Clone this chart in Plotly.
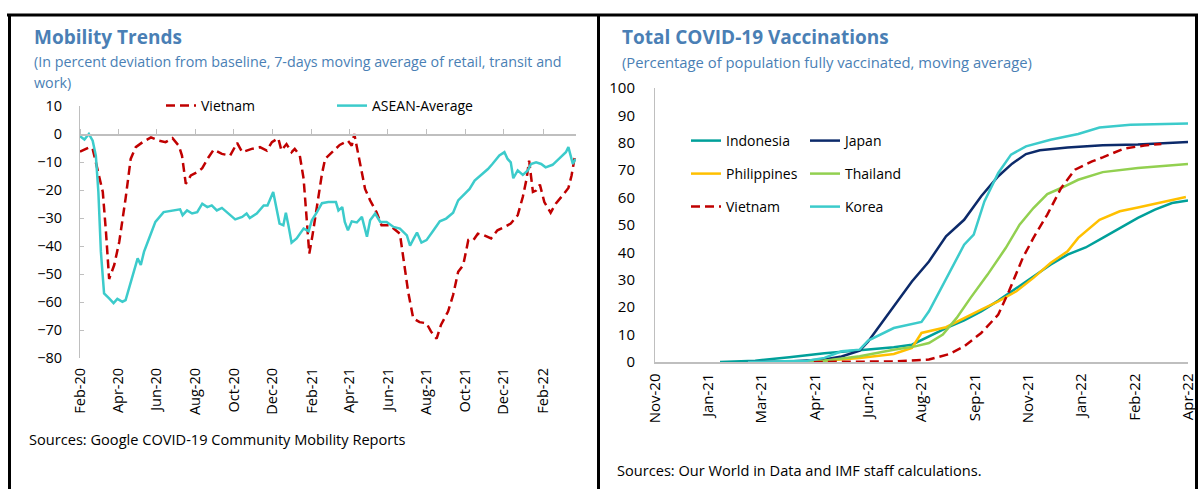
import plotly.graph_objects as go

# ---------------- Left chart data: Mobility Trends ----------------
vn_mob_dates = ["2020-02-15","2020-03-01","2020-03-06","2020-03-17","2020-03-22","2020-03-27","2020-04-01",
    "2020-04-09","2020-04-17","2020-04-27","2020-05-05","2020-05-13","2020-05-24","2020-06-06","2020-06-19",
    "2020-06-29","2020-07-10","2020-07-20","2020-07-25","2020-07-31","2020-08-08","2020-08-18","2020-08-26",
    "2020-09-05","2020-09-13","2020-09-26","2020-10-09","2020-10-20","2020-10-28","2020-11-12","2020-11-25",
    "2020-12-06","2020-12-14","2020-12-24","2020-12-29","2021-01-06","2021-01-14","2021-01-19","2021-01-27",
    "2021-02-02","2021-02-06","2021-02-11","2021-02-16","2021-02-23","2021-03-03","2021-03-08","2021-03-21",
    "2021-03-31","2021-04-13","2021-04-19","2021-04-23","2021-04-27","2021-05-02","2021-05-10","2021-05-18",
    "2021-05-28","2021-06-05","2021-06-18","2021-07-04","2021-07-09","2021-07-17","2021-07-25","2021-08-04",
    "2021-08-15","2021-08-22","2021-08-31","2021-09-07","2021-09-18","2021-09-26","2021-10-04","2021-10-12",
    "2021-10-20","2021-10-28","2021-11-04","2021-11-14","2021-11-25","2021-12-05","2021-12-16","2021-12-26",
    "2022-01-06","2022-01-14","2022-01-20","2022-01-24","2022-01-30","2022-02-04","2022-02-10","2022-02-17",
    "2022-02-27","2022-03-07","2022-03-18","2022-03-27","2022-04-01","2022-04-06"]
vn_mob_vals = [-6.3,-4.7,-5.3,-16,-20.7,-35,-51.8,
    -46.8,-38.5,-23,-8.9,-4.7,-2.9,-1.2,-2.4,
    -2.9,-1.5,-4.2,-7.7,-17.8,-14.8,-13.6,-12.2,
    -8.3,-5.6,-7.1,-7.7,-3.2,-6.5,-5.3,-4.7,
    -5.9,-2.9,-1.5,-5.9,-3.6,-6.5,-5.3,-7.7,
    -16,-26.7,-42.7,-36.2,-25.5,-14.2,-8.9,-5.9,
    -3.9,-2.4,-4.2,0,-4.7,-11.3,-19.6,-23.7,
    -27.9,-32.6,-32.6,-35.6,-43.3,-56.3,-65.8,-67.2,
    -67.6,-70.5,-73.1,-68.1,-63.4,-57.5,-49.2,-46.8,
    -37.9,-37.9,-35.6,-36.2,-37.3,-34.4,-33.2,-32,
    -29,-22.5,-16,-9.5,-20.7,-20.2,-18.1,-24.3,
    -28.1,-24.9,-21.9,-19.3,-14.8,-8.3]

asean_dates = ["2020-02-15","2020-02-22","2020-02-29","2020-03-06","2020-03-11","2020-03-15","2020-03-19",
    "2020-03-24","2020-04-01","2020-04-08","2020-04-14","2020-04-22","2020-04-27","2020-05-05","2020-05-16",
    "2020-05-21","2020-05-26","2020-06-03","2020-06-13","2020-06-26","2020-07-09","2020-07-22","2020-07-26",
    "2020-08-02","2020-08-10","2020-08-18","2020-08-26","2020-09-03","2020-09-10","2020-09-18","2020-09-26",
    "2020-10-07","2020-10-17","2020-10-28","2020-11-04","2020-11-09","2020-11-20","2020-12-01","2020-12-07",
    "2020-12-16","2020-12-21","2020-12-26","2021-01-01","2021-01-05","2021-01-09","2021-01-14","2021-01-22",
    "2021-02-02","2021-02-10","2021-02-15","2021-02-23","2021-03-03","2021-03-13","2021-03-25","2021-03-29",
    "2021-04-04","2021-04-08","2021-04-13","2021-04-19","2021-04-27","2021-05-05","2021-05-13","2021-05-18",
    "2021-05-26","2021-06-03","2021-06-13","2021-06-24","2021-07-04","2021-07-15","2021-07-20","2021-07-26",
    "2021-07-31","2021-08-07","2021-08-15","2021-08-25","2021-09-05","2021-09-15","2021-09-26","2021-10-04",
    "2021-10-14","2021-10-22","2021-10-30","2021-11-09","2021-11-20","2021-11-27","2021-12-08","2021-12-16",
    "2021-12-21","2021-12-26","2021-12-30","2022-01-06","2022-01-14","2022-01-22","2022-01-27","2022-02-04",
    "2022-02-12","2022-02-19","2022-03-02","2022-03-12","2022-03-23","2022-03-27","2022-03-31","2022-04-03",
    "2022-04-07"]
asean_vals = [-0.8,-2,0,-2.4,-7.7,-20.7,-42.1,
    -56.9,-58.7,-60.4,-58.9,-59.9,-59.3,-52.7,-44.4,
    -46.8,-42.1,-37.3,-31.4,-27.9,-27.3,-26.9,-29,
    -27.3,-28.4,-27.9,-24.9,-26.1,-25.5,-27.3,-26.4,
    -28.4,-30.5,-29.6,-28.4,-30,-28.4,-25.5,-25.5,
    -20.7,-26.1,-32,-32.6,-28.1,-32.6,-38.8,-37.3,
    -33.8,-34.7,-30.8,-27.9,-24.7,-24.3,-24.3,-27.3,
    -26.1,-31.4,-34.4,-31.2,-31.6,-29.6,-36.7,-30.8,
    -28.4,-31.4,-31.4,-33.2,-33.8,-36.2,-39.9,-37.3,
    -35.2,-38.8,-37.9,-34.7,-31.2,-30.2,-28.1,-23.7,
    -21.3,-19.6,-16.6,-14.6,-12.5,-10.7,-7.7,-6.5,
    -8.9,-10.1,-15.8,-13,-14.6,-13,-10.7,-10.1,
    -10.7,-11.9,-11,-8.9,-6.5,-4.7,-7.7,-10.7,
    -8.9]

left_tick_dates = ["2020-02-15","2020-04-15","2020-06-15","2020-08-15","2020-10-15","2020-12-15",
    "2021-02-15","2021-04-15","2021-06-15","2021-08-15","2021-10-15","2021-12-15","2022-02-15"]
left_tick_labels = ["Feb-20","Apr-20","Jun-20","Aug-20","Oct-20","Dec-20",
    "Feb-21","Apr-21","Jun-21","Aug-21","Oct-21","Dec-21","Feb-22"]
left_yticks = [10,0,-10,-20,-30,-40,-50,-60,-70,-80]

# ---------------- Right chart data: Vaccinations ----------------
idn_dates = ["2021-01-28","2021-03-02","2021-04-03","2021-05-06","2021-06-08","2021-07-10","2021-07-27",
    "2021-08-12","2021-08-28","2021-09-14","2021-09-30","2021-10-16","2021-11-02","2021-11-18","2021-12-04",
    "2021-12-20","2022-01-06","2022-01-22","2022-02-07","2022-02-24","2022-03-12","2022-03-28","2022-04-12"]
idn_vals = [0,0.5,1.7,3.2,4.3,5.4,6.3,9.4,12.4,15.2,18.5,22.4,27,31.3,35.5,39.2,41.8,45.3,48.9,52.6,55.6,58,58.9]

jpn_dates = ["2021-02-23","2021-04-03","2021-05-06","2021-05-22","2021-06-08","2021-06-16","2021-06-24",
    "2021-07-10","2021-07-27","2021-08-12","2021-08-28","2021-09-14","2021-09-30","2021-10-16","2021-10-29",
    "2021-11-11","2021-11-24","2021-12-20","2022-01-22","2022-02-24","2022-04-12"]
jpn_vals = [0,0.2,0.9,2,4.1,7.5,11.8,20.3,29.4,36.7,45.9,51.9,60.5,67.8,72.4,75.9,77.3,78.3,79.1,79.4,80.3]

phl_dates = ["2021-04-03","2021-05-06","2021-06-08","2021-07-10","2021-07-27","2021-08-05","2021-08-28",
    "2021-09-14","2021-09-30","2021-10-16","2021-11-02","2021-11-18","2021-12-04","2021-12-20","2021-12-30",
    "2022-01-19","2022-02-07","2022-02-24","2022-03-12","2022-03-28","2022-04-10"]
phl_vals = [0,0.5,1.5,2.9,5.1,10.6,12.7,16.1,19.1,22.1,25.8,30.7,36.1,40.4,45.3,51.9,55,56.4,57.7,59.2,60.2]

tha_dates = ["2021-04-03","2021-05-06","2021-06-08","2021-07-10","2021-07-30","2021-08-12","2021-08-25",
    "2021-09-07","2021-09-20","2021-10-06","2021-10-23","2021-11-05","2021-11-18","2021-12-01","2021-12-14",
    "2021-12-30","2022-01-22","2022-02-24","2022-04-12"]
tha_vals = [0,0.5,2.1,4.5,5.7,6.9,10,16.1,23.4,31.9,41.6,50.1,56.2,61.3,63.5,66.5,69.3,70.8,72.3]

vnm_dates = ["2021-04-26","2021-07-10","2021-08-12","2021-08-31","2021-09-14","2021-09-30","2021-10-16",
    "2021-10-26","2021-11-08","2021-11-18","2021-12-01","2021-12-14","2021-12-27","2022-01-12","2022-01-22",
    "2022-02-11","2022-03-02","2022-03-18"]
vnm_vals = [0,0.2,0.9,2.9,5.7,10.6,17.3,25.8,38,45.3,53.8,63.5,70.2,73.2,74.7,77.9,79,79.6]

kor_dates = ["2021-02-23","2021-04-20","2021-05-06","2021-05-22","2021-06-08","2021-06-16","2021-07-10",
    "2021-08-05","2021-08-12","2021-08-22","2021-09-04","2021-09-14","2021-09-23","2021-10-03","2021-10-16",
    "2021-10-28","2021-11-11","2021-12-04","2021-12-30","2022-01-19","2022-02-17","2022-04-12"]
kor_vals = [0,0.5,1.5,3.9,4.5,7.8,12.4,14.6,18.5,25.8,35.5,42.8,46.5,58.6,69,75.7,78.7,81.1,83.2,85.6,86.6,87]

right_tick_dates = ["2020-11-28","2021-01-17","2021-03-08","2021-04-27","2021-06-16","2021-08-05",
    "2021-09-24","2021-11-13","2022-01-02","2022-02-21","2022-04-12"]
right_tick_labels = ["Nov-20","Jan-21","Mar-21","Apr-21","Jun-21","Aug-21",
    "Sep-21","Nov-21","Jan-22","Feb-22","Apr-22"]
right_yticks = [0,10,20,30,40,50,60,70,80,90,100]

# ---------------- styles ----------------
W, H = 1198, 489
FONT = "Open Sans"
BLUE = "#4A7FB5"
AX = "#BFBFBF"
RED = "#C00000"
TURQ = "#3CCBCB"


def px(x):
    return x / W


def py(y):
    return 1 - y / H


fig = go.Figure()

# Left chart traces
fig.add_trace(go.Scatter(x=vn_mob_dates, y=vn_mob_vals, name="Vietnam", mode="lines",
                         line=dict(color=RED, width=2.5, dash="9px,5px"),
                         xaxis="x", yaxis="y", legend="legend"))
fig.add_trace(go.Scatter(x=asean_dates, y=asean_vals, name="ASEAN-Average", mode="lines",
                         line=dict(color=TURQ, width=2.5),
                         xaxis="x", yaxis="y", legend="legend"))

# Right chart traces
right_series = [
    ("Indonesia", idn_dates, idn_vals, "#00A09A", None, "legend2"),
    ("Japan", jpn_dates, jpn_vals, "#0C2A6A", None, "legend2"),
    ("Philippines", phl_dates, phl_vals, "#FFC000", None, "legend3"),
    ("Thailand", tha_dates, tha_vals, "#92D050", None, "legend3"),
    ("Vietnam", vnm_dates, vnm_vals, RED, "9px,5px", "legend4"),
    ("Korea", kor_dates, kor_vals, TURQ, None, "legend4"),
]
for name, xs, ys, col, dash, leg in right_series:
    fig.add_trace(go.Scatter(x=xs, y=ys, name=name, mode="lines",
                             line=dict(color=col, width=2.5, dash=dash),
                             xaxis="x3", yaxis="y3", legend=leg))

tickfont_l = dict(family=FONT, size=14.5, color="#000000")
tickfont_r = dict(family=FONT, size=15, color="#000000")

L_DOM_X = [px(80), px(576)]
L_DOM_Y = [py(358), py(106)]
R_DOM_X = [px(655), px(1188)]
R_DOM_Y = [py(362), py(88)]

legcommon = dict(orientation="h", font=dict(family=FONT, size=14, color="#000"),
                 bgcolor="rgba(0,0,0,0)", borderwidth=0, itemclick=False,
                 traceorder="normal", xanchor="left", yanchor="middle", tracegroupgap=0)

fig.update_layout(
    width=W, height=H,
    margin=dict(l=0, r=0, t=0, b=0),
    paper_bgcolor="white", plot_bgcolor="white",
    font=dict(family=FONT, size=13, color="#000"),
    hovermode=False,
    xaxis=dict(domain=L_DOM_X, anchor="y", type="date",
               range=["2020-02-15", "2022-04-08"],
               tickvals=left_tick_dates, ticktext=left_tick_labels, tickangle=-90,
               showline=False, showgrid=False, zeroline=False, ticks="",
               tickfont=tickfont_l, automargin=False, ticklabelstandoff=6),
    yaxis=dict(domain=L_DOM_Y, anchor="x", range=[-80, 10], tickvals=left_yticks,
               showline=True, linecolor=AX, linewidth=1, ticks="inside", ticklen=4,
               tickcolor=AX, showgrid=False, zeroline=False,
               tickfont=tickfont_l, automargin=False, ticklabelstandoff=14),
    # zero-crossing axis with tick marks pointing up
    xaxis2=dict(overlaying="x", matches="x", anchor="free",
                position=py(134), side="top", type="date",
                tickvals=left_tick_dates, showticklabels=False,
                ticks="outside", ticklen=5, tickcolor=AX,
                showline=True, linecolor=AX, linewidth=1.5, showgrid=False, zeroline=False,
                automargin=False),
    xaxis3=dict(domain=R_DOM_X, anchor="y3", type="date",
                range=["2020-11-28", "2022-04-12"],
                tickvals=right_tick_dates, ticktext=right_tick_labels, tickangle=-90,
                showline=True, linecolor=AX, linewidth=1.5, showgrid=False, zeroline=False,
                ticks="", tickfont=tickfont_r, automargin=False, ticklabelstandoff=4),
    yaxis3=dict(domain=R_DOM_Y, anchor="x3", range=[0, 100], tickvals=right_yticks,
                showline=True, linecolor=AX, linewidth=1, ticks="", showgrid=False,
                zeroline=False, tickfont=tickfont_r, automargin=False, ticklabelstandoff=16),
    legend=dict(x=px(161), y=py(106), entrywidth=126, **legcommon),
    legend2=dict(x=px(686), y=py(141), entrywidth=74, **legcommon),
    legend3=dict(x=px(686), y=py(174), entrywidth=74, **legcommon),
    legend4=dict(x=px(686), y=py(207), entrywidth=74, **legcommon),
    showlegend=True,
)

# invisible trace so the zero-crossing axis renders
fig.add_trace(go.Scatter(x=[left_tick_dates[0]], y=[0], xaxis="x2", yaxis="y",
                         mode="markers", marker=dict(opacity=0), showlegend=False,
                         hoverinfo="skip"))

# Texts
texts = [
    (32, 37, "<b>Mobility Trends</b>", 19, BLUE),
    (32, 62, "(In percent deviation from baseline, 7-days moving average of retail, transit and", 14.3, BLUE),
    (32, 82, "work)", 14.3, BLUE),
    (27, 439, "Sources: Google COVID-19 Community Mobility Reports", 14.6, "#000"),
    (620, 37, "<b>Total COVID-19 Vaccinations</b>", 19, BLUE),
    (620, 62, "(Percentage of population fully vaccinated, moving average)", 14.8, BLUE),
    (615, 470, "Sources: Our World in Data and IMF staff calculations.", 14.6, "#000"),
]
for x, y, t, s, c in texts:
    fig.add_annotation(x=px(x), y=py(y), xref="paper", yref="paper", text=t, showarrow=False,
                       xanchor="left", yanchor="middle", align="left",
                       font=dict(family=FONT, size=s, color=c))

# Panel borders
border = dict(color="black", width=3)
fig.add_shape(type="line", xref="paper", yref="paper", x0=px(7), x1=1, y0=py(15), y1=py(15), line=border)
fig.add_shape(type="line", xref="paper", yref="paper", x0=px(9.5), x1=px(9.5), y0=py(15), y1=0, line=border)
fig.add_shape(type="line", xref="paper", yref="paper", x0=px(598.5), x1=px(598.5), y0=py(15), y1=0, line=border)
fig.add_shape(type="line", xref="paper", yref="paper", x0=px(1196.5), x1=px(1196.5), y0=py(15), y1=0, line=border)

# the figure fills the whole window: drop the default page margin and scrollbars
fig.write_html("out.html",
               config={"displayModeBar": False, "staticPlot": True},
               post_script="document.body.style.margin='0';document.body.style.overflow='hidden';")
